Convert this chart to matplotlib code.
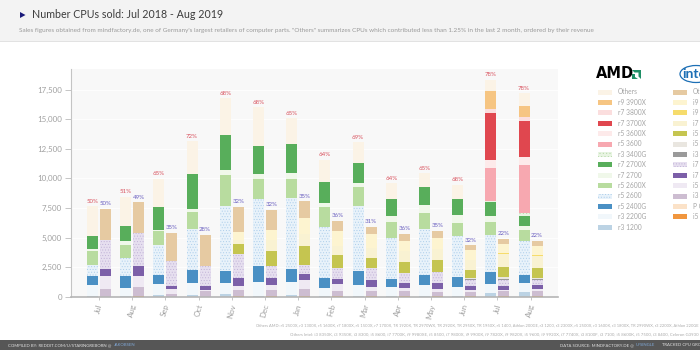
import matplotlib
matplotlib.use('Agg')
import numpy as np
import matplotlib.pyplot as plt
from matplotlib.patches import Rectangle, Polygon, Ellipse

# months
months = ['Jul', 'Aug', 'Sep', 'Oct', 'Nov', 'Dec', 'Jan', 'Feb', 'Mar', 'Apr', 'May', 'Jun', 'Jul', 'Aug']
yticks = [0, 2500, 5000, 7500, 10000, 12500, 15000, 17500]
ytick_labels = ['0', '2,500', '5,000', '7,500', '10,000', '12,500', '15,000', '17,500']

# AMD, bottom of the stack first
r3_1200 = [110, 110, 200, 200, 250, 110, 200, 110, 110, 110, 110, 110, 340, 390]
r3_2200g = [930, 650, 900, 980, 930, 1130, 1060, 650, 870, 730, 870, 730, 780, 790]
r5_2400g = [760, 980, 780, 1120, 1040, 1400, 1130, 840, 1180, 710, 850, 850, 960, 700]
r5_2600 = [930, 1550, 2530, 3400, 5420, 5620, 5960, 4300, 5480, 3420, 3930, 3480, 3170, 2810]
r5_2600x = [1120, 1070, 1130, 1500, 2620, 1660, 1570, 1660, 1610, 1350, 1320, 1070, 1070, 930]
r7_2700 = [200, 330, 140, 200, 440, 450, 510, 360, 330, 540, 700, 640, 480, 340]
r7_2700x = [1120, 1270, 1880, 2980, 2960, 2390, 2440, 1800, 1690, 1400, 1520, 1410, 1180, 840]
r3_3400g = [0, 0, 0, 0, 0, 0, 0, 0, 0, 0, 0, 0, 140, 280]
r5_3600 = [0, 0, 0, 0, 0, 0, 0, 0, 0, 0, 0, 0, 2730, 4050]
r5_3600x = [0, 0, 0, 0, 0, 0, 0, 0, 0, 0, 0, 0, 700, 700]
r7_3700x = [0, 0, 0, 0, 0, 0, 0, 0, 0, 0, 0, 0, 3930, 3030]
r7_3800x = [0, 0, 0, 0, 0, 0, 0, 0, 0, 0, 0, 0, 340, 290]
r9_3900x = [0, 0, 0, 0, 0, 0, 0, 0, 0, 0, 0, 0, 1570, 980]
amd_others = [2470, 2470, 2390, 2750, 3090, 3240, 2190, 1830, 1770, 1320, 1130, 1150, 900, 1040]

# Intel, bottom of the stack first
i5_orange = [0, 110, 0, 0, 50, 50, 50, 50, 50, 50, 50, 50, 50, 50]
p_g = [0, 0, 0, 0, 0, 0, 0, 0, 0, 0, 0, 0, 0, 0]
i3_mauve = [670, 730, 250, 480, 570, 570, 650, 430, 480, 430, 370, 340, 430, 430]
i5_pale = [1130, 900, 450, 140, 340, 420, 760, 620, 310, 280, 250, 230, 140, 200]
i7_purple = [560, 900, 200, 340, 640, 560, 480, 450, 560, 420, 510, 340, 340, 340]
i7_hatched = [2470, 2760, 2100, 1680, 2050, 990, 790, 890, 1040, 840, 930, 440, 460, 390]
i3_gray = [0, 0, 0, 0, 0, 0, 0, 0, 0, 0, 0, 100, 140, 130]
i5_pale2 = [0, 0, 0, 0, 0, 0, 0, 0, 0, 0, 0, 100, 100, 100]
i5_olive = [0, 0, 0, 0, 850, 1260, 1540, 1130, 850, 900, 980, 700, 870, 780]
i7_pale = [0, 0, 0, 0, 330, 980, 1070, 760, 840, 930, 960, 790, 1120, 1070]
i9_yellow = [0, 0, 0, 0, 0, 0, 0, 0, 40, 40, 40, 40, 40, 40]
i9_pale = [0, 0, 0, 0, 620, 790, 1320, 1210, 1140, 800, 880, 800, 810, 780]
intel_others = [2620, 2580, 2400, 2610, 2140, 1740, 1400, 890, 590, 620, 620, 430, 390, 450]

amd_pct = [50, 51, 65, 72, 68, 68, 65, 64, 69, 64, 65, 68, 78, 78]
intel_pct = [50, 49, 35, 28, 32, 32, 35, 36, 31, 36, 35, 32, 22, 22]

amd_series = [r3_1200, r3_2200g, r5_2400g, r5_2600, r5_2600x, r7_2700, r7_2700x,
              r3_3400g, r5_3600, r5_3600x, r7_3700x, r7_3800x, r9_3900x, amd_others]
amd_names = ['r3 1200', 'r3 2200G', 'r5 2400G', 'r5 2600', 'r5 2600X', 'r7 2700', 'r7 2700X',
             'r3 3400G', 'r5 3600', 'r5 3600X', 'r7 3700X', 'r7 3800X', 'r9 3900X', 'Others']
amd_colors = ['#bcd3e4', '#f1f7fb', '#4a90c4', '#e8f2fa', '#b8dc9f', '#f0f8ea', '#58ae5b',
              '#e8f4e2', '#f7a8b0', '#fdeaea', '#e0474f', '#fbdede', '#f6c582', '#fbf3e6']
amd_hatch = [None, None, None, '......', None, None, None, '.....', None, None, None, None, None, None]

intel_series = [i5_orange, p_g, i3_mauve, i5_pale, i7_purple, i7_hatched, i3_gray,
                i5_pale2, i5_olive, i7_pale, i9_yellow, i9_pale, intel_others]
intel_names = ['i5 9400F', 'P G5400', 'i3 8100', 'i5 8400', 'i7 8700K', 'i7 8700', 'i3 9100F',
               'i5 9600KF', 'i5 9600K', 'i7 9700K', 'i9 9900KF', 'i9 9900K', 'Others']
intel_colors = ['#f0963e', '#fbe2c8', '#cdbdd1', '#efe9f3', '#7c5fa8', '#e6dfef', '#9a9a9a',
                '#e9e6e0', '#c5c550', '#f9f2d2', '#f6dc6c', '#fdf4d0', '#e6caa2']
intel_hatch = [None, None, None, None, None, '......', None, None, None, None, None, None, None]

hatch_colors = {'#e8f2fa': '#a8cbe9', '#e6dfef': '#bfb0d6', '#e8f4e2': '#b5d9a8'}


def draw_stack(ax, x, series, colors, hatches):
    bottom = np.zeros(len(x))
    for vals, col, h in zip(series, colors, hatches):
        ax.bar(x, vals, 0.33, bottom=bottom, color=col, hatch=h,
               edgecolor=hatch_colors.get(col, col), linewidth=0)
        bottom = bottom + np.array(vals)
    return bottom


plt.rcParams['hatch.linewidth'] = 0.35
plt.rcParams['font.family'] = ['Lato', 'DejaVu Sans']

fig = plt.figure(figsize=(7, 3.5), dpi=100, facecolor='white')

# page furniture, in pixels of the picture
page = fig.add_axes([0, 0, 1, 1])
page.set_xlim(0, 700)
page.set_ylim(350, 0)
page.axis('off')
page.add_patch(Rectangle((0, 0), 700, 41, color='#f3f3f3', lw=0))
page.add_patch(Rectangle((0, 41), 700, 1.2, color='#e2e2e2', lw=0))
page.add_patch(Rectangle((0, 340), 700, 10, color='#565656', lw=0))
page.add_patch(Polygon([(20, 12), (25.5, 15), (20, 18)], color='#1a1a7a', lw=0))
page.text(32, 15, 'Number CPUs sold: Jul 2018 - Aug 2019', fontsize=7.7, color='#3c3c3c', va='center')
page.text(19, 30.5, 'Sales figures obtained from mindfactory.de, one of Germany\'s largest retailers of computer parts. '
          '"Others" summarizes CPUs which contributed less than 1.25% in the last 2 month, ordered by their revenue',
          fontsize=4.63, color='#9a9a9a', va='center')

# notes under the chart
page.text(699, 325.5, 'Others AMD: r5 2500X, r3 1300X, r5 1600X, r7 1800X, r5 1500X, r7 1700X, TR 1920X, TR 2970WX, TR 2920X, '
          'TR 2950X, TR 1950X, r5 1400, Athlon 200GE, r3 1200, r3 2300X, r5 2500X, r3 1600X, r3 1800X, TR 2990WX, r3 2200X, Athlon 220GE',
          fontsize=2.85, color='#aaaaaa', ha='right', va='center')
page.text(699, 334.5, 'Others Intel: i3 8350K, i3 9350K, i3 8300, i5 8600, i7 7700K, i9 9980XE, i5 8500, i7 9800X, i9 9900X, '
          'i9 7820X, i9 9820X, i5 9600, i9 9920X, i7 7740X, i3 8100F, i3 7100, i5 8600K, i5 7500, i3 8400, Celeron G3930',
          fontsize=3.1, color='#aaaaaa', ha='right', va='center')
page.text(8, 345, 'COMPILED BY: REDDIT.COM/U/STARINGREBORN @', fontsize=3.1, color='#e0e0e0', va='center')
page.text(114, 345, 'JAKOBSEN', fontsize=3.1, color='#7fa6d4', va='center')
page.text(560, 345, 'DATA SOURCE: MINDFACTORY.DE @', fontsize=3.1, color='#e0e0e0', va='center')
page.text(636, 345, 'U/SINGLE', fontsize=3.1, color='#7fa6d4', va='center')
page.text(662, 345, 'TRACKED CPU GROUPS', fontsize=3.1, color='#e0e0e0', va='center')

# brand marks
page.text(596, 74, 'AMD', fontsize=10.5, fontweight='bold', color='black', va='center', family='DejaVu Sans')
page.add_patch(Polygon([(632, 70), (641, 70), (641, 79), (638.5, 76.5), (638.5, 72.5), (634.5, 72.5)], color='#1f8f66', lw=0))
page.add_patch(Polygon([(632, 74), (635, 74), (635, 77), (638, 79), (632, 79)], color='#1f8f66', lw=0))
page.add_patch(Ellipse((696, 74), 32, 17, fill=False, edgecolor='#1c6fb5', lw=0.9))
page.text(682, 74, 'intel', fontsize=10, fontweight='bold', color='#1c6fb5', va='center')

# legends, Others on top like the stack
for names, colors, hatches, x0 in [(amd_names, amd_colors, amd_hatch, 598), (intel_names, intel_colors, intel_hatch, 673)]:
    for k, (nm, col, h) in enumerate(zip(names[::-1], colors[::-1], hatches[::-1])):
        y = 92 + 10.4 * k
        page.add_patch(Rectangle((x0, y - 2.5), 14, 5, facecolor=col, edgecolor=hatch_colors.get(col, col), hatch=h, lw=0))
        page.text(x0 + 20, y, nm, fontsize=4.8, color='#a5a5a5', va='center', clip_on=True)

ax = fig.add_axes([71 / 700, 53 / 350, 487 / 700, 228 / 350])
ax.set_facecolor('#f8f8f8')
x = np.arange(len(months))
amd_top = draw_stack(ax, x - 0.196, amd_series, amd_colors, amd_hatch)
intel_top = draw_stack(ax, x + 0.196, intel_series, intel_colors, intel_hatch)

for i in range(len(months)):
    ax.annotate(f'{amd_pct[i]}%', (x[i] - 0.196, amd_top[i]), xytext=(0, 2), textcoords='offset points',
                ha='center', va='bottom', fontsize=4.4, color='#d9535f')
    ax.annotate(f'{intel_pct[i]}%', (x[i] + 0.196, intel_top[i]), xytext=(0, 2), textcoords='offset points',
                ha='center', va='bottom', fontsize=4.4, color='#6a5fc0')

ax.set_xlim(-0.843, 13.825)
ax.set_ylim(0, 19230)
ax.set_yticks(yticks)
ax.set_yticklabels(ytick_labels, fontsize=5.7, color='#a0a0a0')
ax.set_xticks(x)
ax.set_xticklabels(months, fontsize=5.7, color='#a0a0a0', rotation=75)
ax.tick_params(axis='y', length=4, width=0.6, color='#bbbbbb', pad=2.5)
ax.tick_params(axis='x', length=2.5, width=0.6, color='#bbbbbb', pad=2)
ax.yaxis.grid(True, color='#ffffff', lw=0.6)
ax.set_axisbelow(True)
for side in ['top', 'right']:
    ax.spines[side].set_visible(False)
ax.spines['left'].set_color('#c4c4c4')
ax.spines['left'].set_linewidth(0.8)
ax.spines['bottom'].set_color('#b5b5b5')
ax.spines['bottom'].set_linewidth(1.2)

fig.savefig('out.png', dpi=100)
